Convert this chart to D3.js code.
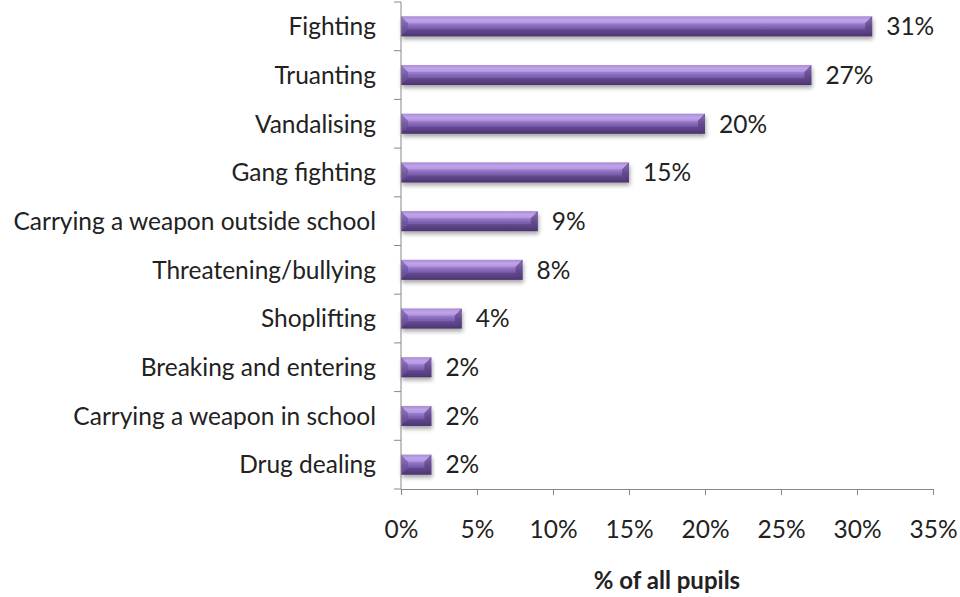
<!DOCTYPE html>
<html>
<head>
<meta charset="utf-8">
<script src="https://cdn.jsdelivr.net/npm/d3@7/dist/d3.min.js"></script>
<style>
  body { margin: 0; background: #fff; }
  svg { display: block; }
  text { font-family: Lato, "Open Sans", sans-serif; fill: #222; }
</style>
</head>
<body>
<svg id="chart" width="960" height="597"></svg>
<script>
// Share of pupils reporting each behaviour
const categories = [
  "Fighting",
  "Truanting",
  "Vandalising",
  "Gang fighting",
  "Carrying a weapon outside school",
  "Threatening/bullying",
  "Shoplifting",
  "Breaking and entering",
  "Carrying a weapon in school",
  "Drug dealing"
];
const values = [31, 27, 20, 15, 9, 8, 4, 2, 2, 2];
const xTicks = [0, 5, 10, 15, 20, 25, 30, 35];
const xTitle = "% of all pupils";

const FONT = 24.5;
const svg = d3.select("#chart");
const margin = { left: 401, right: 27, top: 2, bottom: 108 };
const W = 960, H = 597;
const innerW = W - margin.left - margin.right;
const innerH = H - margin.top - margin.bottom;

const x = d3.scaleLinear().domain([0, 35]).range([0, innerW]);
const y = d3.scaleBand().domain(categories).range([0, innerH]).paddingInner(0.59).paddingOuter(0.295);

const defs = svg.append("defs");
const grad = defs.append("linearGradient").attr("id", "barGrad")
  .attr("x1", 0).attr("y1", 0).attr("x2", 0).attr("y2", 1);
grad.append("stop").attr("offset", "0%").attr("stop-color", "#8c70bf");
grad.append("stop").attr("offset", "18%").attr("stop-color", "#b99be6");
grad.append("stop").attr("offset", "32%").attr("stop-color", "#a184d4");
grad.append("stop").attr("offset", "55%").attr("stop-color", "#7f62b3");
grad.append("stop").attr("offset", "85%").attr("stop-color", "#654a90");
grad.append("stop").attr("offset", "100%").attr("stop-color", "#4f3873");

const shadow = defs.append("filter").attr("id", "shadow")
  .attr("x", "-10%").attr("y", "-30%").attr("width", "120%").attr("height", "180%");
shadow.append("feGaussianBlur").attr("in", "SourceAlpha").attr("stdDeviation", 2.2).attr("result", "b");
shadow.append("feOffset").attr("in", "b").attr("dx", 1).attr("dy", 3).attr("result", "o");
shadow.append("feComponentTransfer").attr("in", "o").attr("result", "s")
  .append("feFuncA").attr("type", "linear").attr("slope", 0.35);
const merge = shadow.append("feMerge");
merge.append("feMergeNode").attr("in", "s");
merge.append("feMergeNode").attr("in", "SourceGraphic");

const g = svg.append("g").attr("transform", `translate(${margin.left},${margin.top})`);

// bars with bevelled ends
const bars = g.selectAll("g.bar").data(categories).join("g").attr("class", "bar")
  .attr("transform", d => `translate(0,${y(d)})`);
const bh = y.bandwidth();
const bev = Math.min(7, bh * 0.35);

bars.append("rect")
  .attr("x", 0).attr("y", 0)
  .attr("width", (d, i) => x(values[i]))
  .attr("height", bh)
  .attr("fill", "url(#barGrad)")
  .attr("filter", "url(#shadow)");

// left bevel (light triangle)
bars.append("path")
  .attr("d", (d, i) => {
    const w = x(values[i]); const b = Math.min(bev, w / 2.5);
    return `M0,0 L${b},${b} L${b},${bh - b} L0,${bh} Z`;
  })
  .attr("fill", "#6a4f97").attr("opacity", 0.55);
bars.append("path")
  .attr("d", (d, i) => {
    const w = x(values[i]); const b = Math.min(bev, w / 2.5);
    return `M0,0 L${w},0 L${w - b},${b} L${b},${b} Z`;
  })
  .attr("fill", "#c9b0f0").attr("opacity", 0.45);
// right bevel (dark)
bars.append("path")
  .attr("d", (d, i) => {
    const w = x(values[i]); const b = Math.min(bev, w / 2.5);
    return `M${w},0 L${w},${bh} L${w - b},${bh - b} L${w - b},${b} Z`;
  })
  .attr("fill", "#4a3470").attr("opacity", 0.55);
bars.append("path")
  .attr("d", (d, i) => {
    const w = x(values[i]); const b = Math.min(bev, w / 2.5);
    return `M0,${bh} L${b},${bh - b} L${w - b},${bh - b} L${w},${bh} Z`;
  })
  .attr("fill", "#3f2b60").attr("opacity", 0.35);

// value labels
bars.append("text")
  .attr("x", (d, i) => x(values[i]) + 14)
  .attr("y", bh / 2)
  .attr("dy", "0.36em")
  .attr("font-size", FONT)
  .text((d, i) => values[i] + "%");

// y axis
const yAxisG = g.append("g");
yAxisG.append("line").attr("x1", 0).attr("x2", 0).attr("y1", 0).attr("y2", innerH)
  .attr("stroke", "#888").attr("stroke-width", 1);
const bounds = d3.range(categories.length + 1).map(i => i * innerH / categories.length);
yAxisG.selectAll("line.tick").data(bounds).join("line").attr("class", "tick")
  .attr("x1", -7).attr("x2", 0).attr("y1", d => d).attr("y2", d => d)
  .attr("stroke", "#888");
yAxisG.selectAll("text").data(categories).join("text")
  .attr("x", -25).attr("y", d => y(d) + bh / 2).attr("dy", "0.36em")
  .attr("text-anchor", "end").attr("font-size", FONT)
  .text(d => d);

// x axis
const xAxis = d3.axisBottom(x).tickValues(xTicks).tickFormat(d => d + "%").tickSize(6).tickPadding(26);
const xAxisG = g.append("g").attr("transform", `translate(0,${innerH})`).call(xAxis);
xAxisG.select(".domain").attr("stroke", "#888");
xAxisG.selectAll(".tick line").attr("stroke", "#888");
xAxisG.selectAll(".tick text").attr("font-size", FONT).attr("font-family", "Lato, 'Open Sans', sans-serif").attr("fill", "#222");

// x axis title
svg.append("text")
  .attr("x", margin.left + innerW / 2).attr("y", 589)
  .attr("text-anchor", "middle").attr("font-size", FONT * 0.98).attr("font-weight", "bold")
  .text(xTitle);
</script>
</body>
</html>
